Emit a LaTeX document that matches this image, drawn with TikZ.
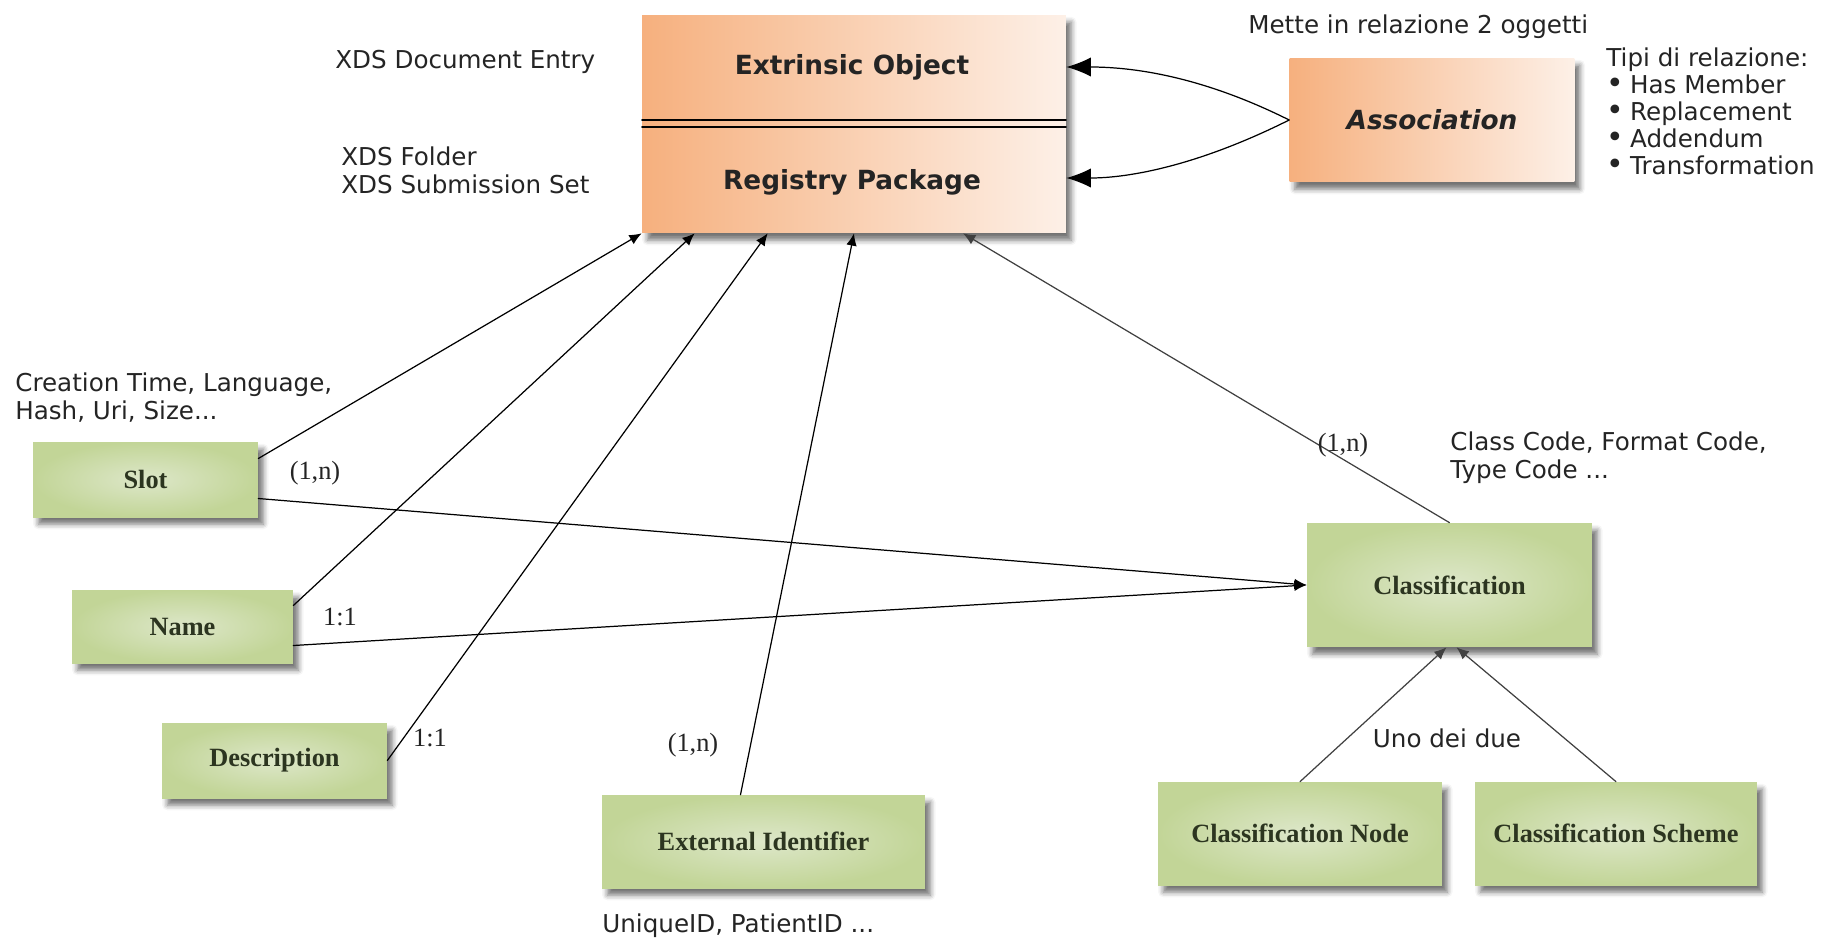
\documentclass[tikz,border=0pt]{standalone}
\usepackage{fontspec}
\setmainfont{Liberation Serif}
\newfontfamily\labelfont{DejaVu Sans}
\usetikzlibrary{arrows.meta,calc,shadows.blur}

\definecolor{orangeL}{HTML}{F6B07E}
\definecolor{orangeR}{HTML}{FDF0E7}
\definecolor{greenE}{HTML}{C2D597}
\definecolor{greenC}{HTML}{DDE7C9}
\definecolor{txtgray}{HTML}{242424}
\definecolor{boxtxt}{HTML}{2C3520}

\newcommand\tbul{{\fontsize{17}{15}\selectfont •}\hspace{0.25em}}

\tikzset{
	boxshadow/.style={blur shadow={shadow xshift=3pt, shadow yshift=-4pt, shadow blur radius=3pt, shadow opacity=55}},
	regbox/.style={rectangle, inner sep=0pt, left color=orangeL, right color=orangeR, boxshadow},
	attrbox/.style={rectangle, inner sep=0pt, inner color=greenC, outer color=greenE, boxshadow,
		font=\fontsize{15}{18}\selectfont\bfseries, text=boxtxt},
	regtext/.style={font=\labelfont\fontsize{15}{18}\selectfont\bfseries, text=txtgray},
	note/.style={font=\labelfont\fontsize{14}{16}\selectfont, text=txtgray, align=left, inner sep=0pt},
	card/.style={font=\fontsize{15}{18}\selectfont, text=txtgray, inner sep=0pt},
	link/.style={-{Latex[length=7pt,width=6pt]}, line width=0.7pt},
	biglink/.style={-{Latex[length=14pt,width=11pt]}, line width=0.7pt},
}

\begin{document}
\begin{tikzpicture}[x=0.02cm, y=-0.02cm, line join=round, line cap=round]
	\useasboundingbox (0,0) rectangle (1842,940);
	% registry objects
	\node[regbox, minimum width=8.48cm, minimum height=4.36cm] (reg) at (854,124) {};
	\draw[line width=0.9pt] (642,120)--(1066,120);
	\draw[line width=0.9pt] (642,127)--(1066,127);
	\node[regtext] (extr) at (852,67) {Extrinsic Object};
	\node[regtext] (regp) at (852,182) {Registry Package};
	\node[regbox, minimum width=5.7cm, minimum height=2.48cm, regtext, font=\labelfont\fontsize{15}{18}\selectfont\bfseries\itshape] (assoc) at (1432,120) {Association};
	% attributes
	\node[attrbox, minimum width=4.5cm, minimum height=1.5cm] (slot) at (145.5,479.5) {Slot};
	\node[attrbox, minimum width=4.42cm, minimum height=1.46cm] (name) at (182.5,626.5) {Name};
	\node[attrbox, minimum width=4.5cm, minimum height=1.5cm] (desc) at (274.5,760.5) {Description};
	\node[attrbox, minimum width=6.46cm, minimum height=1.86cm] (extid) at (763.5,841.5) {External Identifier};
	\node[attrbox, minimum width=5.7cm, minimum height=2.48cm] (class) at (1449.5,585) {Classification};
	\node[attrbox, minimum width=5.68cm, minimum height=2.06cm] (cnode) at (1300,833.5) {Classification Node};
	\node[attrbox, minimum width=5.64cm, minimum height=2.06cm] (cscheme) at (1616,833.5) {Classification Scheme};
	% links
	\draw[link] ($(slot.east)+(0,-21)$) -- (reg.south west);
	\draw[link] ($(name.east)+(0,-21)$) -- ($(reg.south west)+(53,0)$);
	\draw[link] (desc.east) -- ($(reg.south west)+(126,0)$);
	\draw[link] ($(extid.north)+(-23,0)$) -- (reg.south);
	\draw[link, draw=black!75] (class.north) -- ($(reg.south)+(109,0)$);
	\draw[link] ($(slot.east)+(0,19)$) -- (class.west);
	\draw[link] ($(name.east)+(0,19)$) -- (class.west);
	\draw[link, draw=black!75] (cnode.north) -- ($(class.south)+(-3,0)$);
	\draw[link, draw=black!75] (cscheme.north) -- ($(class.south)+(7,0)$);
	\draw[biglink] (assoc.west) .. controls +(-90,-45) and +(64,0) .. ($(reg.east)+(0,-57)$);
	\draw[biglink] (assoc.west) .. controls +(-90,45) and +(64,0) .. ($(reg.east)+(0,54)$);
	% notes
	\node[note, anchor=west] (docentry) at (335,62) {XDS Document Entry};
	\node[note, anchor=west] (folder) at (341,170.5) {XDS Folder\\XDS Submission Set};
	\node[note, anchor=west] (mette) at (1248,27) {Mette in relazione 2 oggetti};
	\node[note, anchor=west, font=\labelfont\fontsize{14}{15.3}\selectfont] (tipi) at (1606,111.5) {Tipi di relazione:\\\tbul Has Member\\\tbul Replacement\\\tbul Addendum\\\tbul Transformation};
	\node[note, anchor=west] (slotinfo) at (15,397.5) {Creation Time, Language,\\Hash, Uri, Size...};
	\node[note, anchor=west] (classinfo) at (1450,457.5) {Class Code, Format Code,\\Type Code ...};
	\node[note] (unodue) at (1447,738) {Uno dei due};
	\node[note, anchor=west] (idinfo) at (602,926) {UniqueID, PatientID ...};
	% cardinalities
	\node[card] (cslot) at (315,473) {(1,n)};
	\node[card] (cname) at (340,617) {1:1};
	\node[card] (cdesc) at (430,738) {1:1};
	\node[card] (cext) at (693,745) {(1,n)};
	\node[card] (cclass) at (1343,445) {(1,n)};
\end{tikzpicture}
\end{document}
